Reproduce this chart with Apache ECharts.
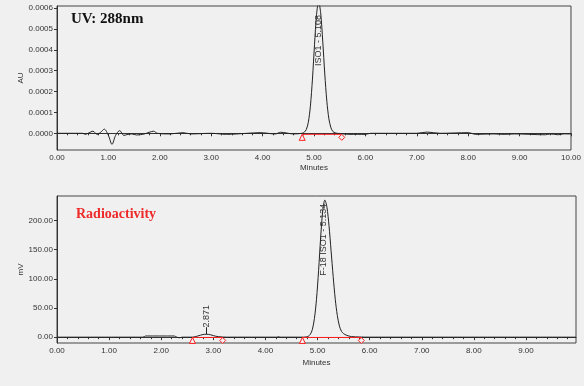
<!DOCTYPE html>
<html>
<head>
<meta charset="utf-8">
<script src="https://cdn.jsdelivr.net/npm/echarts@6/dist/echarts.min.js"></script>
<style>
  html, body { margin: 0; padding: 0; background: #f0f0f0; }
  #chart { width: 584px; height: 386px; }
</style>
</head>
<body>
<div id="chart"></div>
<script>
// UV 288nm trace (minutes, AU)
var uvTime = [0, 0.5, 0.55, 0.62, 0.7, 0.78, 0.85, 0.92, 1.0, 1.07, 1.14, 1.22, 1.3, 1.38, 1.45, 1.55, 1.7, 1.88, 1.95, 2.2, 2.45, 2.6, 3.0, 3.3, 3.7, 3.95, 4.25, 4.35, 4.6, 4.77,
  4.81, 4.85, 4.89, 4.93, 4.97, 5.01, 5.05, 5.09, 5.13, 5.17, 5.21, 5.25, 5.29, 5.33, 5.37, 5.41, 5.45,
  5.7, 6.0, 6.1, 7.0, 7.2, 7.45, 8.0, 8.15, 8.5, 8.7, 8.9, 9.5, 9.6, 9.75, 9.85, 10];
var uvSignal = [0, 0, -0.000005, 0.000002, 0.00001, -0.000005, 0.000005, 0.00002, -0.00001, -0.000053, -0.00001, 0.000013, -0.00001, -0.000005, -0.000003, -0.000008, -0.000003, 0.00001, 0, -0.000003, 0.000003, -0.000003, 0, -0.000005, 0, 0.000003, -0.000003, 0.000005, -0.000003, 0,
  0.000005, 0.000018, 0.000053, 0.00013, 0.00026, 0.000424, 0.00057, 0.00063, 0.000577, 0.000442, 0.000284, 0.000153, 0.000069, 0.000026, 0.000008, 0.000002, 0,
  -0.000005, -0.000005, 0, 0, 0.000006, 0, 0.000003, -0.000005, -0.000003, -0.000005, -0.000003, -0.000007, -0.000003, -0.000007, -0.000003, -0.000003];

// Radioactivity trace (minutes, mV)
var radTime = [0, 1.65, 1.7, 2.25, 2.3, 2.35, 2.4, 2.6, 2.7, 2.8, 2.87, 2.95, 3.05, 3.15, 3.25, 4.22, 4.25, 4.28, 4.74,
  4.78, 4.82, 4.86, 4.9, 4.94, 4.98, 5.02, 5.06, 5.1, 5.14, 5.18, 5.22, 5.26, 5.3, 5.34, 5.38, 5.42, 5.46, 5.5, 5.55, 5.6, 5.65,
  5.8, 6.0, 9.96];
var radSignal = [0, 0, 2, 2, 0, -1, 0, 0, 2, 4.5, 5, 4, 1.5, 0.5, 0, 0, 1, 0, 0,
  0.4, 1.4, 4.7, 13, 32, 65, 114, 171, 217, 235, 223, 191, 148, 104, 65, 37, 19, 10, 6, 3.5, 2, 1, 0.3,
  0, 0, 0];

// integration baselines [start, end]
var uvBase = [[4.77, -0.000005], [5.54, -0.000005]];
var radBase1 = [[2.6, -0.5], [3.18, -0.5]];
var radBase2 = [[4.71, -0.5], [5.84, -0.5]];

var uvTicks = [0, 0.0001, 0.0002, 0.0003, 0.0004, 0.0005, 0.0006];
var radTicks = [0, 50, 100, 150, 200];
var uvXTicks = [0, 1, 2, 3, 4, 5, 6, 7, 8, 9, 10];
var radXTicks = [0, 1, 2, 3, 4, 5, 6, 7, 8, 9];

function zip(a, b) {
  return a.map(function (t, i) { return [t, b[i]]; });
}

var labelFont = { fontFamily: 'Liberation Sans', fontSize: 8, color: '#333' };

function xAxisFor(idx, max, ticks) {
  return {
    type: 'value', gridIndex: idx, min: 0, max: max, interval: 1,
    name: 'Minutes', nameLocation: 'middle', nameGap: 14,
    nameTextStyle: labelFont,
    axisLine: { lineStyle: { color: '#333' } },
    axisTick: { length: 3, inside: false, lineStyle: { color: '#333' }, customValues: ticks },
    minorTick: { show: true, splitNumber: 5, length: 2, lineStyle: { color: '#333' } },
    axisLabel: Object.assign({ margin: 4, customValues: ticks, formatter: function (v) { return v.toFixed(2); } }, labelFont),
    splitLine: { show: false }
  };
}

function yAxisFor(idx, min, max, ticks, name, dec) {
  return {
    type: 'value', gridIndex: idx, min: min, max: max,
    name: name, nameLocation: 'middle', nameGap: 32, nameRotate: 90,
    nameMoveOverlap: false,
    nameTextStyle: labelFont,
    axisLine: { show: true, lineStyle: { color: '#333' } },
    axisTick: { show: true, length: 3, lineStyle: { color: '#333' }, customValues: ticks },
    axisLabel: Object.assign({ margin: 4, customValues: ticks, formatter: function (v) { return v.toFixed(dec); } }, labelFont),
    splitLine: { show: false }
  };
}

function baseline(xi, pts) {
  return {
    type: 'line', xAxisIndex: xi, yAxisIndex: xi,
    lineStyle: { color: '#ff2020', width: 1 },
    itemStyle: { color: '#f0f0f0', borderColor: '#ff2020', borderWidth: 1 },
    showSymbol: true, symbolSize: 6,
    data: [
      { value: pts[0], symbol: 'triangle', symbolOffset: [0, 3] },
      { value: pts[1], symbol: 'diamond', symbolOffset: [0, 3] }
    ],
    silent: true, animation: false, z: 4
  };
}

var chart = echarts.init(document.getElementById('chart'));
chart.setOption({
  backgroundColor: '#f0f0f0',
  animation: false,
  grid: [
    { left: 57, top: 6, width: 516, height: 144, show: true, borderColor: '#444', borderWidth: 1 },
    { left: 57, top: 196, width: 519, height: 147, show: true, borderColor: '#444', borderWidth: 1 }
  ],
  title: [
    { text: 'UV: 288nm', left: 66, top: 7,
      textStyle: { fontFamily: 'Liberation Serif', fontWeight: 'bold', fontSize: 15, color: '#111' } },
    { text: 'Radioactivity', left: 71, top: 202,
      textStyle: { fontFamily: 'Liberation Serif', fontWeight: 'bold', fontSize: 14, color: '#ee2a2a' } }
  ],
  xAxis: [xAxisFor(0, 10, uvXTicks), Object.assign(xAxisFor(1, 9.96, radXTicks), { nameGap: 16 })],
  yAxis: [
    yAxisFor(0, -0.00008, 0.00061, uvTicks, 'AU', 4),
    yAxisFor(1, -10, 242, radTicks, 'mV', 2)
  ],
  series: [
    {
      type: 'line', xAxisIndex: 0, yAxisIndex: 0, data: zip(uvTime, uvSignal),
      showSymbol: false, smooth: 0.3, clip: true,
      lineStyle: { color: '#222', width: 1 }, z: 3,
      markPoint: {
        symbol: 'circle', symbolSize: 0, silent: true,
        data: [{ coord: [5.09, 0.000445], value: 'ISO1 - 5.108' }],
        label: { show: true, rotate: 90, formatter: '{c}', fontFamily: 'Liberation Sans', fontSize: 9, color: '#333', position: 'inside' }
      }
    },
    {
      type: 'line', xAxisIndex: 1, yAxisIndex: 1, data: zip(radTime, radSignal),
      showSymbol: false, smooth: 0.3, clip: true,
      lineStyle: { color: '#222', width: 1 }, z: 3,
      markPoint: {
        symbol: 'circle', symbolSize: 0, silent: true,
        data: [
          { coord: [5.11, 167], value: 'F-18 ISO1 - 5.134' },
          { coord: [2.87, 36], value: '2.871' }
        ],
        label: { show: true, rotate: 90, formatter: '{c}', fontFamily: 'Liberation Sans', fontSize: 9, color: '#333', position: 'inside' }
      },
      markLine: {
        symbol: 'none', silent: true, label: { show: false },
        lineStyle: { color: '#222', width: 1, type: 'solid' },
        data: [[{ coord: [2.87, 5] }, { coord: [2.87, 17] }]]
      }
    },
    baseline(0, uvBase),
    baseline(1, radBase1),
    baseline(1, radBase2)
  ]
});
</script>
</body>
</html>
